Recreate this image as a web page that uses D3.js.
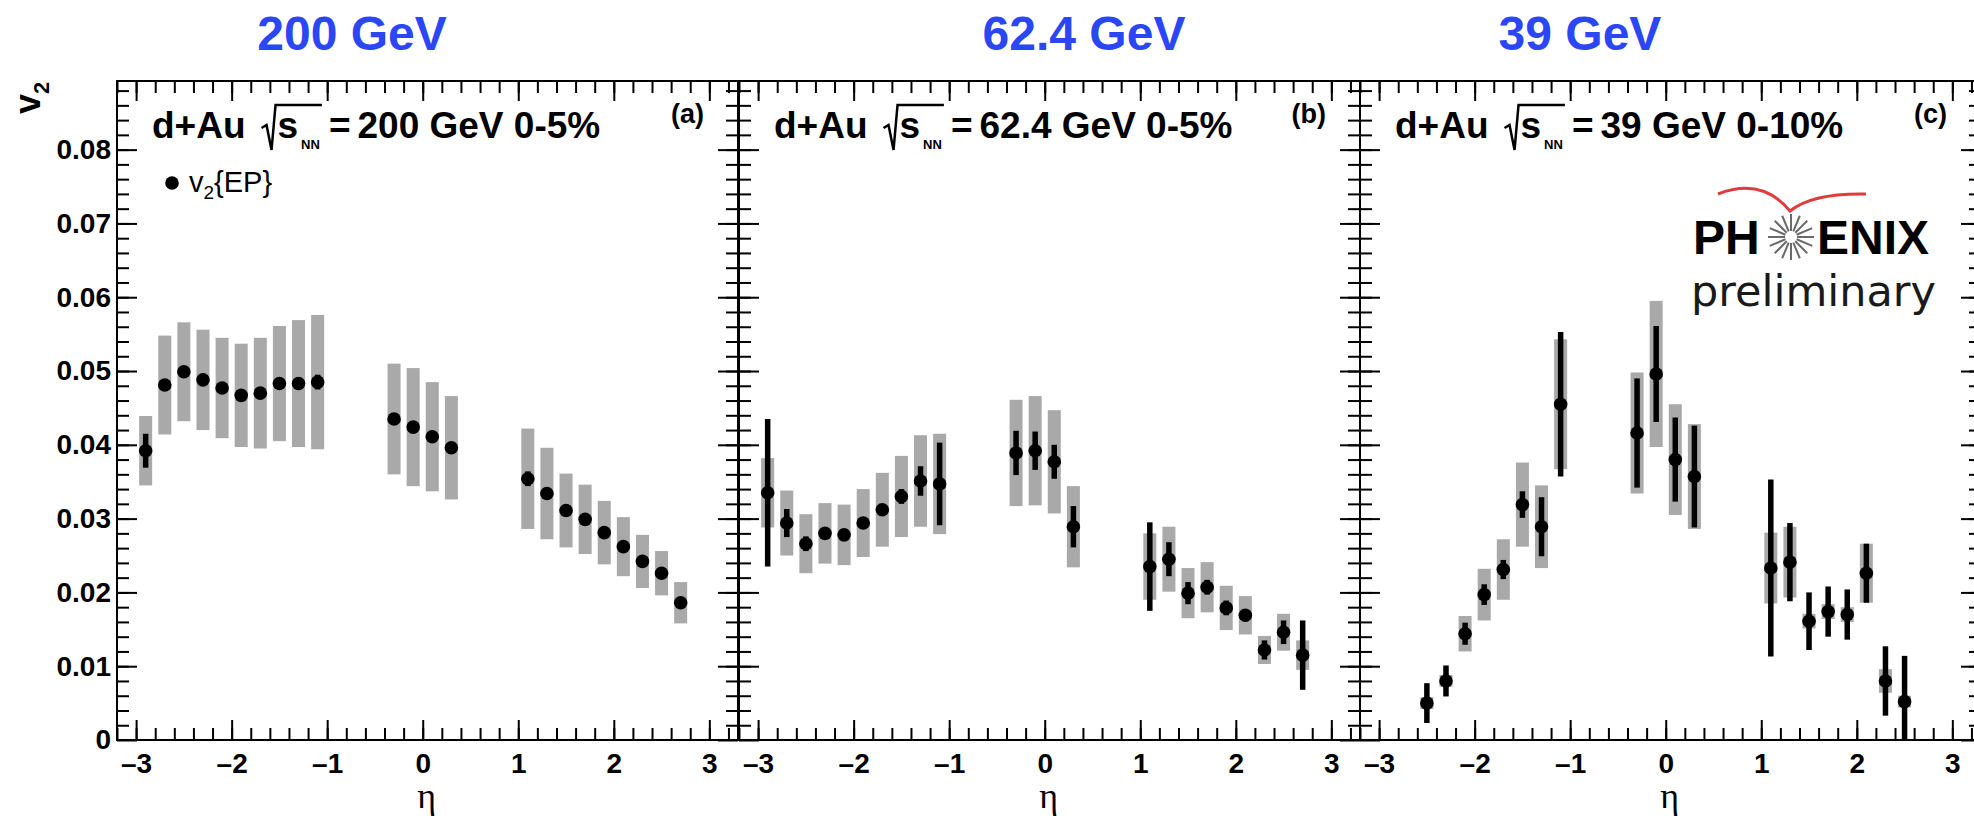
<!DOCTYPE html>
<html>
<head>
<meta charset="utf-8">
<script src="https://cdn.jsdelivr.net/npm/d3@7"></script>
<style>
  body { margin: 0; background: #fff; }
  svg { display: block; }
</style>
</head>
<body>
<svg id="chart" width="1974" height="820"></svg>
<script>
// ---- data: d+Au v2{EP} vs eta, PHENIX preliminary ----
const panelTags = ['(a)', '(b)', '(c)'];
const energyTitles = ['200 GeV', '62.4 GeV', '39 GeV'];
const labelTails = ['200 GeV 0-5%', '62.4 GeV 0-5%', '39 GeV 0-10%'];

// (a) 200 GeV 0-5%
const etaA  = [-2.9, -2.7, -2.5, -2.3, -2.1, -1.9, -1.7, -1.5, -1.3, -1.1, -0.3, -0.1, 0.1, 0.3, 1.1, 1.3, 1.5, 1.7, 1.9, 2.1, 2.3, 2.5, 2.7];
const v2A   = [0.0392, 0.0481, 0.0499, 0.0488, 0.0477, 0.0467, 0.0470, 0.0483, 0.0483, 0.0485, 0.0435, 0.0424, 0.0411, 0.0396, 0.0354, 0.0334, 0.0311, 0.0299, 0.0281, 0.0262, 0.0242, 0.0226, 0.0186];
const statA = [0.0023, 0.0006, 0.0006, 0.0006, 0.0006, 0.0006, 0.0006, 0.0006, 0.0006, 0.0010, 0.0006, 0.0006, 0.0006, 0.0006, 0.0010, 0.0006, 0.0006, 0.0006, 0.0006, 0.0006, 0.0006, 0.0006, 0.0006];
const sysA  = [0.0047, 0.0067, 0.0067, 0.0068, 0.0068, 0.0070, 0.0075, 0.0078, 0.0086, 0.0091, 0.0075, 0.0080, 0.0074, 0.0070, 0.0068, 0.0062, 0.0050, 0.0047, 0.0043, 0.0040, 0.0036, 0.0030, 0.0028];

// (b) 62.4 GeV 0-5%
const etaB  = [-2.9, -2.7, -2.5, -2.3, -2.1, -1.9, -1.7, -1.5, -1.3, -1.1, -0.3, -0.1, 0.1, 0.3, 1.1, 1.3, 1.5, 1.7, 1.9, 2.1, 2.3, 2.5, 2.7];
const v2B   = [0.0335, 0.0294, 0.0266, 0.0280, 0.0278, 0.0294, 0.0312, 0.0330, 0.0351, 0.0347, 0.0389, 0.0392, 0.0377, 0.0289, 0.0235, 0.0245, 0.0199, 0.0207, 0.0179, 0.0169, 0.0122, 0.0146, 0.0115];
const statB = [0.0100, 0.0019, 0.0010, 0.0006, 0.0006, 0.0006, 0.0006, 0.0010, 0.0020, 0.0056, 0.0030, 0.0026, 0.0023, 0.0028, 0.0060, 0.0023, 0.0015, 0.0010, 0.0010, 0.0008, 0.0013, 0.0016, 0.0047];
const sysB  = [0.0047, 0.0044, 0.0040, 0.0041, 0.0041, 0.0046, 0.0050, 0.0055, 0.0062, 0.0068, 0.0072, 0.0074, 0.0070, 0.0055, 0.0045, 0.0044, 0.0034, 0.0034, 0.0030, 0.0026, 0.0019, 0.0025, 0.0020];

// (c) 39 GeV 0-10%
const etaC  = [-2.5, -2.3, -2.1, -1.9, -1.7, -1.5, -1.3, -1.1, -0.3, -0.1, 0.1, 0.3, 1.1, 1.3, 1.5, 1.7, 1.9, 2.1, 2.3, 2.5];
const v2C   = [0.0050, 0.0080, 0.0144, 0.0197, 0.0231, 0.0319, 0.0289, 0.0455, 0.0416, 0.0496, 0.0380, 0.0357, 0.0233, 0.0241, 0.0161, 0.0174, 0.0170, 0.0226, 0.0080, 0.0052];
const statC = [0.0027, 0.0021, 0.0015, 0.0014, 0.0013, 0.0018, 0.0040, 0.0098, 0.0074, 0.0065, 0.0057, 0.0069, 0.0120, 0.0053, 0.0039, 0.0034, 0.0034, 0.0040, 0.0047, 0.0062];
const sysC  = [0.0008, 0.0008, 0.0024, 0.0035, 0.0041, 0.0057, 0.0056, 0.0088, 0.0082, 0.0099, 0.0075, 0.0071, 0.0048, 0.0048, 0.0010, 0.0010, 0.0010, 0.0040, 0.0016, 0.0008];

const xMajor = [-3, -2, -1, 0, 1, 2, 3];
const yMajor = [0, 0.01, 0.02, 0.03, 0.04, 0.05, 0.06, 0.07, 0.08];

// ---- layout ----
const font = 'Liberation Sans, Arial, Helvetica, sans-serif';
const panelLefts = [117, 739, 1360];
const panelWidth = 621;
const plotTop = 81, plotBottom = 740;
const titleX = [352, 1084, 1580];

const svg = d3.select('#chart');

const y = d3.scaleLinear().domain([0, 0.0893]).range([plotBottom, plotTop]);

const xMinor = d3.range(-16, 17).map(i => i * 0.2);
const yMinor = d3.range(1, 45).map(i => i * 0.002);

const panels = [
  { eta: etaA, v2: v2A, stat: statA, sys: sysA },
  { eta: etaB, v2: v2B, stat: statB, sys: sysB },
  { eta: etaC, v2: v2C, stat: statC, sys: sysC }
];

const styleAxis = (g) => {
  g.select('.domain').remove();
  g.selectAll('line').attr('stroke', '#000').attr('stroke-width', 2);
  g.selectAll('text')
    .attr('fill', '#000')
    .attr('font-family', font)
    .attr('font-weight', 'bold')
    .attr('font-size', 28);
};

const fmtX = d => d < 0 ? '\u2013' + (-d) : String(d);
const fmtY = d => d === 0 ? '0' : d3.format('.2f')(d);

// Label "d+Au  √s_NN = ... "
const drawPanelLabel = (g, x0, base, tail) => {
  const t = (x, yy, s, size) => g.append('text')
    .attr('x', x).attr('y', yy)
    .attr('font-family', font)
    .attr('font-weight', 'bold')
    .attr('font-size', size)
    .attr('fill', '#000')
    .text(s);
  const a = t(x0, base, 'd+Au', 37);
  const rx = x0 + a.node().getComputedTextLength() + 20;
  const s = t(rx + 12, base, 's', 37);
  const sEnd = rx + 12 + s.node().getComputedTextLength();
  const nn = t(sEnd + 3, base + 11, 'NN', 13);
  const nnEnd = sEnd + 3 + nn.node().getComputedTextLength();
  g.append('path')
    .attr('d', `M${rx - 4},${base - 10} L${rx + 1},${base - 13} L${rx + 6},${base + 12} L${rx + 10},${base - 33} L${nnEnd + 2},${base - 33}`)
    .attr('fill', 'none')
    .attr('stroke', '#000')
    .attr('stroke-width', 2.5);
  const eq = t(nnEnd + 9, base, '=', 37);
  const eqEnd = nnEnd + 9 + eq.node().getComputedTextLength();
  t(eqEnd + 7, base, tail, 37);
};

panels.forEach((p, i) => {
  const left = panelLefts[i];
  const right = left + panelWidth;
  const x = d3.scaleLinear().domain([-3.2, 3.3]).range([left, right]);
  const g = svg.append('g').attr('class', 'panel');

  const pts = p.eta.map((e, k) => ({ eta: e, v: p.v2[k], stat: p.stat[k], sys: p.sys[k] }));

  // systematic boxes
  g.append('g').selectAll('rect')
    .data(pts)
    .enter()
    .append('rect')
    .attr('x', d => x(d.eta) - 6.5)
    .attr('width', 13)
    .attr('y', d => y(d.v + d.sys))
    .attr('height', d => y(Math.max(0, d.v - d.sys)) - y(d.v + d.sys))
    .attr('fill', '#a9a9a9');

  // statistical bars
  g.append('g').selectAll('line')
    .data(pts)
    .enter()
    .append('line')
    .attr('x1', d => x(d.eta))
    .attr('x2', d => x(d.eta))
    .attr('y1', d => y(d.v + d.stat))
    .attr('y2', d => y(Math.max(0, d.v - d.stat)))
    .attr('stroke', '#000')
    .attr('stroke-width', 5.5);

  // markers
  g.append('g').selectAll('circle')
    .data(pts)
    .enter()
    .append('circle')
    .attr('cx', d => x(d.eta))
    .attr('cy', d => y(d.v))
    .attr('r', 6.8)
    .attr('fill', '#000');

  // frame
  g.append('rect')
    .attr('x', left).attr('y', plotTop)
    .attr('width', panelWidth).attr('height', plotBottom - plotTop)
    .attr('fill', 'none')
    .attr('stroke', '#000')
    .attr('stroke-width', 2);

  // bottom axis (ticks point inward)
  g.append('g').attr('transform', `translate(0,${plotBottom})`)
    .call(d3.axisBottom(x).tickValues(xMinor).tickSizeInner(-12).tickSizeOuter(0).tickFormat(''))
    .call(styleAxis);
  g.append('g').attr('transform', `translate(0,${plotBottom})`)
    .call(d3.axisBottom(x).tickValues(xMajor).tickSizeInner(-20).tickSizeOuter(0).tickPadding(13).tickFormat(fmtX))
    .call(styleAxis);

  // top axis
  g.append('g').attr('transform', `translate(0,${plotTop})`)
    .call(d3.axisTop(x).tickValues(xMinor).tickSizeInner(-12).tickSizeOuter(0).tickFormat(''))
    .call(styleAxis);
  g.append('g').attr('transform', `translate(0,${plotTop})`)
    .call(d3.axisTop(x).tickValues(xMajor).tickSizeInner(-20).tickSizeOuter(0).tickFormat(''))
    .call(styleAxis);

  // left axis
  g.append('g').attr('transform', `translate(${left},0)`)
    .call(d3.axisLeft(y).tickValues(yMinor).tickSizeInner(-12).tickSizeOuter(0).tickFormat(''))
    .call(styleAxis);
  g.append('g').attr('transform', `translate(${left},0)`)
    .call(d3.axisLeft(y).tickValues(yMajor).tickSizeInner(-20).tickSizeOuter(0).tickPadding(6)
      .tickFormat(i === 0 ? fmtY : ''))
    .call(styleAxis);

  // right axis
  g.append('g').attr('transform', `translate(${right},0)`)
    .call(d3.axisRight(y).tickValues(yMinor).tickSizeInner(-12).tickSizeOuter(0).tickFormat(''))
    .call(styleAxis);
  g.append('g').attr('transform', `translate(${right},0)`)
    .call(d3.axisRight(y).tickValues(yMajor).tickSizeInner(-20).tickSizeOuter(0).tickFormat(''))
    .call(styleAxis);

  // eta axis title
  g.append('text')
    .attr('x', x(0) + 4).attr('y', 808)
    .attr('text-anchor', 'middle')
    .attr('font-family', 'Liberation Serif, Times New Roman, serif')
    .attr('font-size', 36)
    .attr('fill', '#000')
    .text('\u03b7');

  // panel label and tag
  drawPanelLabel(g, left + 35, 138, labelTails[i]);
  g.append('text')
    .attr('x', right - 34).attr('y', 123)
    .attr('text-anchor', 'end')
    .attr('font-family', font)
    .attr('font-weight', 'bold')
    .attr('font-size', 27)
    .attr('fill', '#000')
    .text(panelTags[i]);

  // blue energy title
  svg.append('text')
    .attr('x', titleX[i]).attr('y', 50)
    .attr('text-anchor', 'middle')
    .attr('font-family', font)
    .attr('font-weight', 'bold')
    .attr('font-size', 48)
    .attr('fill', '#2b46f5')
    .text(energyTitles[i]);
});

// y axis title v2 (rotated)
const yTitle = svg.append('text')
  .attr('transform', 'translate(40,114) rotate(-90)')
  .attr('font-family', font)
  .attr('font-weight', 'bold')
  .attr('font-size', 36)
  .attr('fill', '#000');
yTitle.append('tspan').text('v');
yTitle.append('tspan').attr('dy', 9).attr('font-size', 22).text('2');

// legend
svg.append('circle').attr('cx', 172).attr('cy', 183).attr('r', 6.8).attr('fill', '#000');
const leg = svg.append('text')
  .attr('x', 189).attr('y', 192)
  .attr('font-family', font)
  .attr('font-size', 29)
  .attr('fill', '#000');
leg.append('tspan').text('v');
leg.append('tspan').attr('dy', 7).attr('font-size', 19).text('2');
leg.append('tspan').attr('dy', -7).text('{EP}');

// PHENIX preliminary logo (panel c)
const logo = svg.append('g').attr('class', 'logo');
logo.append('path')
  .attr('d', 'M1718,194 Q1762,177 1790,211 Q1812,193 1866,194')
  .attr('fill', 'none')
  .attr('stroke', '#e23b3b')
  .attr('stroke-width', 3);
const spokes = d3.range(0, 16).map(k => k * Math.PI / 8);
logo.append('g').selectAll('line')
  .data(spokes)
  .enter()
  .append('line')
  .attr('x1', a => 1791 + 6 * Math.cos(a))
  .attr('y1', a => 237 + 6 * Math.sin(a))
  .attr('x2', a => 1791 + 23 * Math.cos(a))
  .attr('y2', a => 237 + 23 * Math.sin(a))
  .attr('stroke', '#6a6a6a')
  .attr('stroke-width', 2);
logo.append('text')
  .attr('x', 1693).attr('y', 254)
  .attr('font-family', font).attr('font-weight', 'bold').attr('font-size', 48)
  .attr('fill', '#000')
  .text('PH');
logo.append('text')
  .attr('x', 1817).attr('y', 254)
  .attr('font-family', font).attr('font-weight', 'bold').attr('font-size', 48)
  .attr('fill', '#000')
  .text('ENIX');
logo.append('text')
  .attr('x', 1691).attr('y', 306)
  .attr('font-family', 'DejaVu Sans, sans-serif')
  .attr('font-size', 43)
  .attr('fill', '#1a1a1a')
  .text('preliminary');
</script>
</body>
</html>
